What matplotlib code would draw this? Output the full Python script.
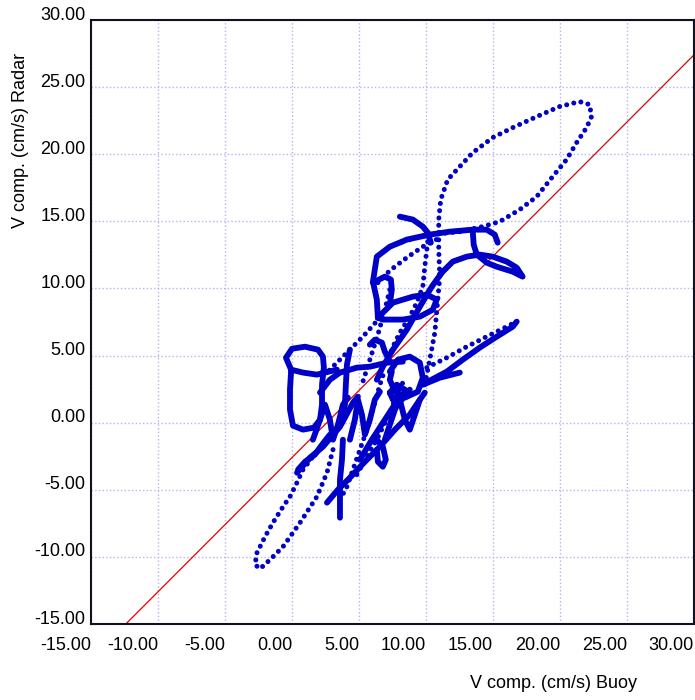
import matplotlib
matplotlib.use("Agg")
import matplotlib.pyplot as plt
import matplotlib.transforms as mtransforms

plt.rcParams['font.family'] = ['Liberation Sans', 'DejaVu Sans']

# axis ticks (cm/s)
tick_vals = [-15, -10, -5, 0, 5, 10, 15, 20, 25, 30]

# regression / reference line
ref_x = [-12.4, 30.0]
ref_y = [-15.0, 27.4]

# --- slow parts of the track (dense dots) ---
arch_x = [6.41, 6.33, 6.04, 6.33, 7.30, 8.57, 10.28, 11.77, 13.49, 14.53, 15.13, 15.35]
arch_y = [7.82, 9.17, 10.51, 12.37, 13.11, 13.64, 14.01, 14.23, 14.38, 14.38, 14.01, 13.41]

hook_x = [8.05, 9.02, 9.76, 10.13, 10.36]
hook_y = [15.35, 15.13, 14.61, 14.16, 13.41]

notch_x = [6.04, 6.93, 7.38, 7.45, 7.30]
notch_y = [10.43, 10.88, 10.66, 9.91, 8.79]

petal_x = [13.49, 13.56, 13.79, 14.53, 15.28, 16.47, 17.21, 16.77, 16.02, 14.98, 14.01, 13.04, 12.00, 11.03]
petal_y = [14.23, 13.26, 12.52, 11.92, 11.62, 11.25, 10.88, 11.55, 12.00, 12.37, 12.52, 12.37, 12.00, 11.03]

ellipse_x = [6.41, 7.53, 9.02, 10.06, 10.80, 10.51, 9.54, 8.27, 6.78, 6.41]
ellipse_y = [7.82, 8.94, 9.39, 9.54, 9.17, 8.42, 7.90, 7.68, 7.68, 7.82]

vee_x = [11.18, 10.43, 9.54, 8.57, 7.53, 6.78, 6.33]
vee_y = [11.18, 10.13, 8.64, 6.93, 5.44, 4.17, 3.20]

ring_x = [7.30, 7.90, 8.79, 9.54, 9.76, 9.39, 8.42, 7.68, 7.30, 7.45]
ring_y = [3.80, 4.69, 4.92, 4.47, 3.35, 2.31, 1.86, 2.31, 3.20, 3.80]

ring2_x = [7.30, 7.82, 8.42, 8.20, 7.53, 7.30]
ring2_y = [2.24, 2.83, 2.46, 1.71, 1.71, 2.24]

fan_x = [16.77, 16.47, 15.28, 14.01, 12.74, 11.55, 10.28, 9.76, 11.03, 12.52]
fan_y = [7.53, 7.15, 6.41, 5.59, 4.69, 3.80, 3.13, 2.83, 3.35, 3.73]

bar_x = [2.09, 2.83, 3.58, 4.84, 5.81, 7.08, 8.27]
bar_y = [2.24, 3.20, 3.73, 4.10, 4.17, 4.47, 4.55]

box_x = [3.35, 1.86, 0.82, -0.07, -0.45, 0.00, 0.97, 1.94, 2.31, 2.38, 2.24, 2.24,
         2.09, 1.64, 0.82, 0.07, -0.15, -0.15, -0.07]
box_y = [3.95, 3.58, 3.73, 3.95, 4.84, 5.51, 5.66, 5.44, 4.92, 4.10, 2.83, 1.34,
         0.22, -0.37, -0.52, -0.22, 0.97, 2.46, 3.80]

post_x = [4.32, 4.10, 4.02, 3.95, 3.73]
post_y = [5.44, 4.32, 2.83, 1.34, 0.37]

drop_x = [3.80, 3.73, 3.58, 3.58, 3.58]
drop_y = [-1.27, -2.76, -4.25, -5.74, -7.08]

tail_x = [2.61, 3.43, 4.32, 5.44, 6.56, 7.68, 8.79, 9.54, 9.91]
tail_y = [-5.96, -4.99, -4.10, -2.91, -1.79, -0.52, 0.60, 1.71, 2.24]

rung_x = [5.07, 5.96, 6.93, 7.90, 8.79]
rung_y = [-2.76, -1.27, 0.22, 1.71, 2.46]

slant_x = [0.37, 1.34, 2.31, 3.58, 4.55, 4.92]
slant_y = [-3.73, -2.61, -1.79, -0.30, 1.49, 1.94]

slant2_x = [0.45, 0.97, 1.71, 2.24, 2.83]
slant2_y = [-3.50, -2.91, -2.38, -1.64, -0.89]

curl_x = [6.33, 6.78, 7.00, 6.78, 6.41, 6.33]
curl_y = [-1.27, -1.79, -2.76, -3.28, -2.91, -2.01]

zig1_x = [1.56, 2.09, 2.46, 2.83, 3.06, 3.43, 3.80, 4.17]
zig1_y = [-1.27, 0.22, 1.34, 0.22, -1.27, -0.15, 1.34, 1.86]
zig2_x = [4.32, 4.69, 4.92, 5.22, 5.44, 5.81, 6.18, 6.56]
zig2_y = [-1.27, 0.22, 1.71, 0.60, -0.89, 0.22, 1.71, 2.31]
zig3_x = [6.93, 7.30, 7.68, 8.05, 8.42, 8.79, 9.17, 9.54]
zig3_y = [-1.27, -0.15, 0.97, 1.71, 0.22, -0.52, 0.60, 1.71]

twist_x = [5.81, 6.18, 6.71, 6.93, 7.30]
twist_y = [5.81, 6.18, 5.96, 5.29, 4.55]

# --- fast parts of the track (spread-out dots) ---
loop_x = [9.91, 10.28, 10.66, 10.88, 11.03, 10.95, 10.95, 11.10, 11.62, 12.52, 13.49, 14.98,
          16.47, 18.26, 19.97, 21.46, 22.21, 22.35, 21.98, 21.24, 20.49, 19.45, 18.26, 16.99,
          15.50, 14.23, 12.52, 11.03, 9.54, 8.05, 7.30]
loop_y = [2.83, 4.69, 6.71, 9.17, 10.88, 12.89, 15.13, 16.62, 18.11, 19.08, 20.12, 21.24,
          21.98, 22.80, 23.55, 23.92, 23.70, 22.80, 21.98, 20.86, 19.60, 18.33, 16.84, 15.87,
          14.98, 14.61, 14.23, 14.08, 13.86, 13.41, 13.11]

inner_x = [6.41, 7.30, 8.57, 9.76, 11.03]
inner_y = [10.43, 11.33, 12.30, 13.11, 13.78]

diag_x = [6.56, 5.29, 4.32, 3.35, 2.68]
diag_y = [7.82, 6.41, 5.44, 4.47, 3.80]

chute_x = [7.30, 6.93, 6.41, 5.81, 5.22]
chute_y = [9.91, 8.42, 6.56, 4.69, 2.83]

slide_x = [10.13, 9.91, 9.76, 9.31, 8.79, 8.05, 7.53, 7.15]
slide_y = [13.48, 11.62, 10.13, 8.94, 7.90, 6.71, 5.66, 4.69]

spike_x = [10.06, 11.55, 13.04, 14.53, 16.02, 16.77]
spike_y = [4.10, 4.84, 5.66, 6.41, 7.15, 7.53]

lower_x = [3.06, 2.61, 1.86, 0.60, -0.67, -1.64, -2.38, -2.76, -2.61, -2.01, -1.42,
           -0.67, -0.15, 0.37, 0.82, 1.56]
lower_y = [-2.01, -3.73, -5.51, -7.45, -9.24, -10.21, -10.88, -10.58, -9.69, -8.49, -7.45,
           -6.26, -5.51, -4.47, -3.50, -2.53]

ray1_x = [3.58, 4.10, 4.55, 5.07, 5.59, 6.04, 6.56, 6.93]
ray1_y = [-5.74, -4.77, -3.50, -2.01, -0.52, 0.97, 2.83, 3.95]

ray2_x = [4.84, 5.66, 6.33, 7.30, 7.82, 8.27]
ray2_y = [-3.87, -2.38, -1.27, 0.75, 2.09, 2.98]

dense = [(arch_x, arch_y), (hook_x, hook_y), (notch_x, notch_y), (petal_x, petal_y),
         (ellipse_x, ellipse_y), (vee_x, vee_y), (ring_x, ring_y), (ring2_x, ring2_y),
         (fan_x, fan_y), (bar_x, bar_y), (box_x, box_y), (post_x, post_y),
         (drop_x, drop_y), (tail_x, tail_y), (rung_x, rung_y), (slant_x, slant_y),
         (slant2_x, slant2_y), (curl_x, curl_y), (zig1_x, zig1_y), (zig2_x, zig2_y),
         (zig3_x, zig3_y), (twist_x, twist_y)]
sparse = [(loop_x, loop_y), (inner_x, inner_y), (diag_x, diag_y), (chute_x, chute_y),
          (slide_x, slide_y), (spike_x, spike_y), (lower_x, lower_y),
          (ray1_x, ray1_y), (ray2_x, ray2_y)]

blue = '#0000c8'

fig = plt.figure(figsize=(6.95, 7.0), dpi=100)
ax = fig.add_axes([91 / 695, 76 / 700, 603 / 695, 604 / 700])

ax.plot(ref_x, ref_y, color='#e00000', lw=0.9, zorder=2)

for xs, ys in sparse:
    ax.plot(xs, ys, color=blue, lw=3.6, linestyle=(0, (0.01, 1.45)),
            dash_capstyle='round', zorder=3)
for xs, ys in dense:
    ax.plot(xs, ys, color=blue, lw=4.2, solid_capstyle='round',
            solid_joinstyle='round', zorder=4)

ax.set_xlim(-15, 30)
ax.set_ylim(-15, 30)
ax.set_xticks(tick_vals)
ax.set_yticks(tick_vals)
ax.set_xticklabels([f'{v:.2f}' for v in tick_vals], fontsize=13)
ax.set_yticklabels([f'{v:.2f}' for v in tick_vals], fontsize=13)
ax.tick_params(length=0)
ax.tick_params(axis='x', pad=9)
ax.tick_params(axis='y', pad=4)

for lab in ax.get_xticklabels():
    lab.set_horizontalalignment('right')
shift = mtransforms.ScaledTranslation(0, 5 / 72, fig.dpi_scale_trans)
for lab in ax.get_yticklabels():
    lab.set_transform(lab.get_transform() + shift)

ax.grid(True, color='#b4b4f0', linestyle=':', lw=1.0)
ax.set_axisbelow(True)
for sp in ax.spines.values():
    sp.set_color('#111122')
    sp.set_linewidth(1.5)

fig.text(0.797, 0.024, 'V comp. (cm/s) Buoy', fontsize=13, ha='center', va='center')
fig.text(0.029, 0.80, 'V comp. (cm/s) Radar', fontsize=13, ha='center', va='center',
         rotation=90)

fig.savefig('out.png', dpi=100)
